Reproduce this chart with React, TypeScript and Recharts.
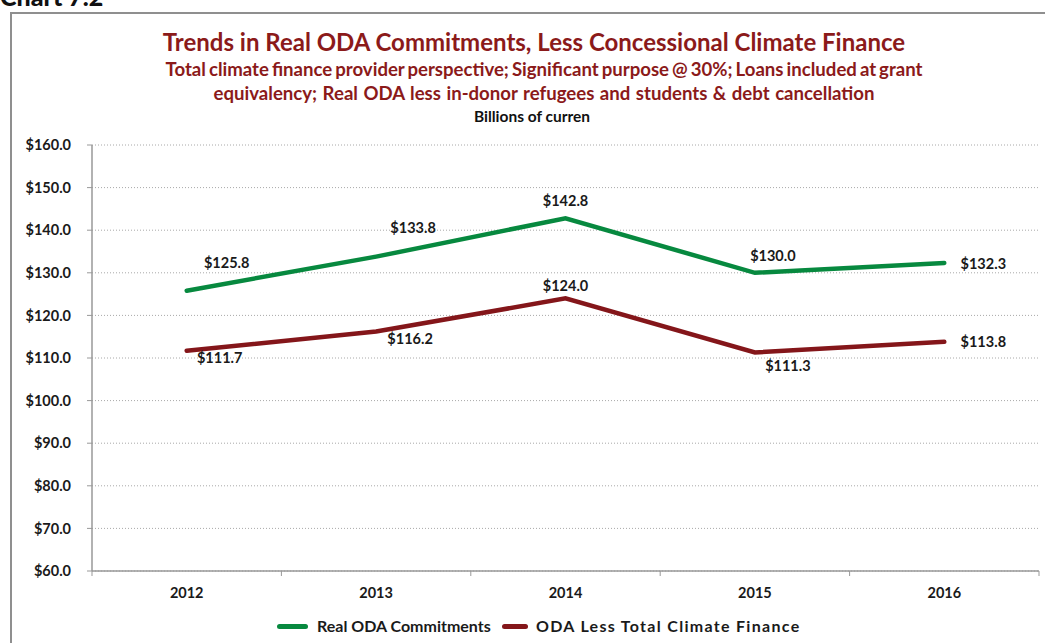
import { LineChart, Line, XAxis, YAxis, CartesianGrid, LabelList } from "recharts";

// years on the x axis
const years = ["2012", "2013", "2014", "2015", "2016"];
// billions of current USD
const realOda = [125.8, 133.8, 142.8, 130.0, 132.3];
const odaLessClimate = [111.7, 116.2, 124.0, 111.3, 113.8];
const yTicks = [60, 70, 80, 90, 100, 110, 120, 130, 140, 150, 160];

// label placement (dx, dy) per point, like the Excel original
const greenLabelPos = [
    [40, -28],
    [37, -29],
    [0, -18],
    [18, -17],
    [39, 0],
];
const redLabelPos = [
    [33, 7],
    [34, 7],
    [0, -13],
    [33, 13],
    [39, 0],
];

const data = years.map((year, i) => ({
    year,
    realOda: realOda[i],
    odaLessClimate: odaLessClimate[i],
}));

const FONT = "Lato, 'Open Sans', sans-serif";
const DARK_RED = "#8B1A1A";
const GREEN = "#07893F";
const RED = "#84161A";

const W = 1045;
const H = 643;
const PLOT_LEFT = 92;
const PLOT_RIGHT = 1039;
const HALF_BAND = (PLOT_RIGHT - PLOT_LEFT) / years.length / 2;

const fmt = (v: number) => `$${v.toFixed(1)}`;

const makeLabel = (pos: number[][]) => (props: any) => {
    const { x, y, value, index } = props;
    const [dx, dy] = pos[index] || [0, -15];
    return (
        <text
            x={x + dx}
            y={y + dy}
            textAnchor="middle"
            dominantBaseline="central"
            fontFamily={FONT}
            fontWeight={700}
            fontSize={14.5}
            fill="#1a1a1a"
        >
            {fmt(value)}
        </text>
    );
};

// year label plus the boundary tick marks between categories
const YearTick = (props: any) => {
    const { x, y, payload, index } = props;
    return (
        <g>
            <line x1={x - HALF_BAND} x2={x - HALF_BAND} y1={y} y2={y + 5} stroke="#999" />
            {index === years.length - 1 && (
                <line x1={x + HALF_BAND} x2={x + HALF_BAND} y1={y} y2={y + 5} stroke="#999" />
            )}
            <text
                x={x}
                y={y + 21}
                textAnchor="middle"
                dominantBaseline="central"
                fontFamily={FONT}
                fontWeight={700}
                fontSize={14.5}
                fill="#1a1a1a"
            >
                {payload.value}
            </text>
        </g>
    );
};

export default function App() {
    return (
        <div
            style={{
                position: "absolute",
                left: 0,
                top: 0,
                width: W,
                height: H,
                overflow: "hidden",
                background: "#fff",
                fontFamily: FONT,
            }}
        >
            {/* cut-off caption above the frame */}
            <div
                style={{
                    position: "absolute",
                    left: 0,
                    top: -19,
                    fontSize: 25,
                    fontWeight: 900,
                    color: "#111",
                    lineHeight: "30px",
                }}
            >
                Chart 7.2
            </div>

            {/* frame */}
            <div
                style={{
                    position: "absolute",
                    left: 10,
                    top: 12,
                    width: 1100,
                    height: 700,
                    border: "2px solid #8f8f8f",
                }}
            />

            {/* titles */}
            <div
                style={{
                    position: "absolute",
                    left: 0,
                    width: 1068,
                    top: 27,
                    textAlign: "center",
                    color: DARK_RED,
                    fontWeight: 700,
                    fontSize: 24,
                    lineHeight: "30px",
                }}
            >
                Trends in Real ODA Commitments, Less Concessional Climate Finance
            </div>
            <div
                style={{
                    position: "absolute",
                    left: 0,
                    width: 1088,
                    top: 57,
                    textAlign: "center",
                    color: DARK_RED,
                    fontWeight: 700,
                    fontSize: 18.6,
                    lineHeight: "24px",
                }}
            >
                <span style={{ wordSpacing: -1.5 }}>
                    Total climate finance provider perspective; Significant purpose @ 30%; Loans included at grant
                </span>
                <br />
                <span style={{ wordSpacing: 1 }}>
                    equivalency; Real ODA less in-donor refugees and students &amp; debt cancellation
                </span>
            </div>
            <div
                style={{
                    position: "absolute",
                    left: 0,
                    width: 1064,
                    top: 106,
                    textAlign: "center",
                    color: "#111",
                    fontWeight: 700,
                    fontSize: 15.5,
                    lineHeight: "20px",
                }}
            >
                Billions of curren
            </div>

            <div style={{ position: "absolute", left: 0, top: 0 }}>
                <LineChart
                    width={W}
                    height={H}
                    data={data}
                    margin={{ top: 145, right: W - PLOT_RIGHT, bottom: 42, left: 0 }}
                >
                    <CartesianGrid
                        vertical={false}
                        stroke="#a8a8a8"
                        strokeDasharray="1 2"
                    />
                    <XAxis
                        dataKey="year"
                        height={30}
                        padding={{ left: HALF_BAND, right: HALF_BAND }}
                        axisLine={{ stroke: "#999", strokeWidth: 1.5 }}
                        tickLine={false}
                        tickSize={0}
                        tickMargin={0}
                        tick={<YearTick />}
                        interval={0}
                    />
                    <YAxis
                        width={PLOT_LEFT}
                        domain={[60, 160]}
                        ticks={yTicks}
                        tickFormatter={fmt}
                        axisLine={{ stroke: "#999", strokeWidth: 1.5 }}
                        tickLine={{ stroke: "#999" }}
                        tickSize={5}
                        tickMargin={16}
                        tick={{
                            fill: "#1a1a1a",
                            fontSize: 14.5,
                            fontWeight: 700,
                            fontFamily: FONT,
                        }}
                        interval={0}
                    />
                    <Line
                        type="linear"
                        dataKey="realOda"
                        stroke={GREEN}
                        strokeWidth={4.5}
                        strokeLinecap="round"
                        dot={false}
                        isAnimationActive={false}
                    >
                        <LabelList dataKey="realOda" content={makeLabel(greenLabelPos)} />
                    </Line>
                    <Line
                        type="linear"
                        dataKey="odaLessClimate"
                        stroke={RED}
                        strokeWidth={4.5}
                        strokeLinecap="round"
                        dot={false}
                        isAnimationActive={false}
                    >
                        <LabelList dataKey="odaLessClimate" content={makeLabel(redLabelPos)} />
                    </Line>
                </LineChart>
            </div>

            {/* legend */}
            <div
                style={{
                    position: "absolute",
                    top: 615,
                    left: 277,
                    display: "flex",
                    alignItems: "center",
                    fontWeight: 700,
                    fontSize: 16,
                    color: "#1a1a1a",
                    lineHeight: "22px",
                    whiteSpace: "nowrap",
                }}
            >
                <span style={{ width: 31, height: 5, borderRadius: 3, background: GREEN, display: "inline-block", flexShrink: 0 }} />
                <span style={{ marginLeft: 9, width: 185, flexShrink: 0 }}>Real ODA Commitments</span>
                <span
                    style={{
                        width: 26,
                        height: 5,
                        borderRadius: 3,
                        background: RED,
                        display: "inline-block",
                        flexShrink: 0,
                    }}
                />
                <span style={{ marginLeft: 8, letterSpacing: 1.3 }}>ODA Less Total Climate Finance</span>
            </div>
        </div>
    );
}
